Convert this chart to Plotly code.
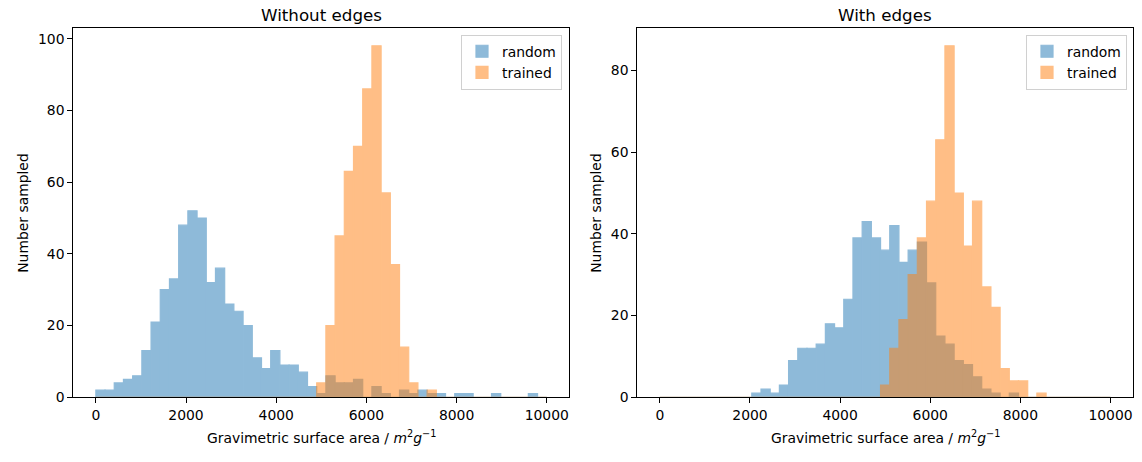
import numpy as np
import plotly.graph_objects as go

# ---- data ----
bin_edges = np.linspace(0, 10000, 50)   # 49 shared histogram bins

# Without edges
left_random = [2, 2, 4, 5, 6, 13, 21, 30, 33, 48, 52, 50, 32, 36, 26, 24, 20, 11, 8, 13,
               9, 9, 7, 3, 1, 6, 4, 4, 5, 0, 3, 1, 0, 2, 1, 2, 1, 1, 0, 1,
               1, 0, 0, 1, 0, 0, 0, 1, 0]
left_trained = [0] * 24 + [4, 20, 45, 63, 70, 86, 98, 57, 37, 14, 4, 0, 2] + [0] * 12

# With edges
right_random = [0] * 10 + [1, 2, 1, 3, 9, 12, 12, 13, 18, 17, 24, 39, 43, 39, 36, 42, 33, 36,
                           38, 28, 15, 13, 9, 8, 5, 2, 1, 0, 1] + [0] * 10
right_trained = [0] * 24 + [3, 12, 19, 30, 39, 48, 63, 86, 50, 37, 48, 27, 22, 7, 4, 4, 0, 1] + [0] * 7

series_names = ["random", "trained"]
panel_titles = ["Without edges", "With edges"]
x_label = "Gravimetric surface area / <i>m</i><sup>2</sup><i>g</i><sup>\u22121</sup>"
y_label = "Number sampled"
x_ticks = [0, 2000, 4000, 6000, 8000, 10000]
x_tick_labels = ["0", "2000", "4000", "6000", "8000", "10000"]
y_ticks_left = [0, 20, 40, 60, 80, 100]
y_ticks_right = [0, 20, 40, 60, 80]

# ---- layout helpers ----
W, H = 1142, 462
FONT = "DejaVu Sans"
FS = 13.9
C_BLUE = "#1f77b4"
C_ORANGE = "#ff7f0e"

centers = (bin_edges[:-1] + bin_edges[1:]) / 2
widths = np.diff(bin_edges)

fig = go.Figure()

panels = [
    (left_random, left_trained, "x", "y", "legend"),
    (right_random, right_trained, "x2", "y2", "legend2"),
]
for rnd, trn, xa, ya, lg in panels:
    for vals, name, col in ((rnd, series_names[0], C_BLUE), (trn, series_names[1], C_ORANGE)):
        fig.add_trace(go.Bar(
            x=centers, y=vals, width=widths, name=name,
            marker=dict(color=col, line=dict(width=1.2, color=col)),
            opacity=0.5, xaxis=xa, yaxis=ya, legend=lg,
        ))

px_x = lambda p: p / W
px_y = lambda p: 1 - p / H

dom_left = [px_x(73.3), px_x(569.3)]
dom_right = [px_x(637.3), px_x(1133)]
dom_y = [px_y(397.3), px_y(28.3)]

axis_common = dict(
    showgrid=False, zeroline=False, showline=True, mirror=True,
    linecolor="black", linewidth=1, ticks="outside", ticklen=5, tickwidth=1,
    tickcolor="black", tickfont=dict(family=FONT, size=FS, color="black"),
    automargin=False,
)

ymax_l = max(max(left_random), max(left_trained)) * 1.05
ymax_r = max(max(right_random), max(right_trained)) * 1.05

legend_common = dict(xanchor="right", yanchor="top",
                     bgcolor="rgba(255,255,255,0.8)", bordercolor="#d0d0d0", borderwidth=1,
                     font=dict(family=FONT, size=FS, color="black"), itemwidth=30,
                     tracegroupgap=0)

fig.update_layout(
    width=W, height=H,
    margin=dict(l=0, r=0, t=0, b=0, autoexpand=False),
    paper_bgcolor="white", plot_bgcolor="white",
    barmode="overlay",
    font=dict(family=FONT, size=FS, color="black"),
    xaxis=dict(domain=dom_left, range=[-500, 10500], tickvals=x_ticks, ticktext=x_tick_labels,
               anchor="y", **axis_common),
    yaxis=dict(domain=dom_y, range=[0, ymax_l], tickvals=y_ticks_left, anchor="x", **axis_common),
    xaxis2=dict(domain=dom_right, range=[-500, 10500], tickvals=x_ticks, ticktext=x_tick_labels,
                anchor="y2", **axis_common),
    yaxis2=dict(domain=dom_y, range=[0, ymax_r], tickvals=y_ticks_right, anchor="x2", **axis_common),
    legend=dict(x=px_x(562), y=px_y(34.7), **legend_common),
    legend2=dict(x=px_x(1127), y=px_y(34.7), **legend_common),
)

annotations = []
for dom, title in ((dom_left, panel_titles[0]), (dom_right, panel_titles[1])):
    cx = (dom[0] + dom[1]) / 2
    annotations.append(dict(text=title, x=cx, y=px_y(15), xref="paper", yref="paper",
                            showarrow=False, font=dict(family=FONT, size=16.7, color="black"),
                            xanchor="center", yanchor="middle"))
    annotations.append(dict(text=x_label, x=cx, y=px_y(437), xref="paper", yref="paper",
                            showarrow=False, font=dict(family=FONT, size=FS, color="black"),
                            xanchor="center", yanchor="middle"))
for xpx in (23, 596):
    annotations.append(dict(text=y_label, x=px_x(xpx), y=(dom_y[0] + dom_y[1]) / 2,
                            xref="paper", yref="paper", showarrow=False, textangle=-90,
                            font=dict(family=FONT, size=FS, color="black"),
                            xanchor="center", yanchor="middle"))
fig.update_layout(annotations=annotations)

fig.write_html("out.html",
               config={"displayModeBar": False},
               post_script="document.body.style.margin='0px';document.body.style.overflow='hidden';")
